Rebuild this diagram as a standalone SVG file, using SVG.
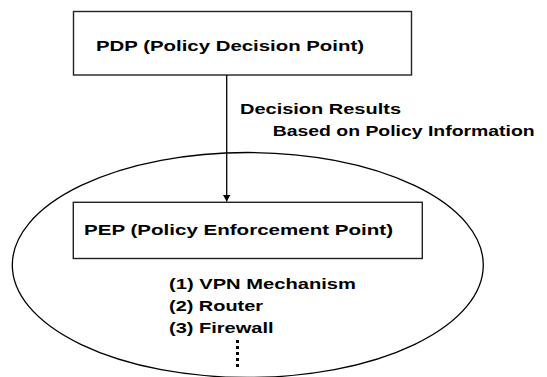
<svg xmlns="http://www.w3.org/2000/svg" width="547" height="377" viewBox="0 0 547 377">
<defs>
<marker id="ah" markerWidth="8" markerHeight="8" refX="7" refY="4" orient="auto" markerUnits="userSpaceOnUse">
<path d="M0,0 L7,4 L0,8 Z" fill="#000"/>
</marker>
</defs>
<style>
.t{font-family:"Liberation Sans",Arial,sans-serif;font-weight:bold;font-size:15px;fill:#000}
.box{fill:#fff;stroke:#222;stroke-width:1.4}
.edge{stroke:#000;stroke-width:1.3;fill:none}
</style>
<rect width="547" height="377" fill="#fff"/>
<g id="domain">
<ellipse cx="247.8" cy="265" rx="235.5" ry="112.5" fill="none" stroke="#000" stroke-width="1.3"/>
</g>
<g id="pdp">
<rect class="box" x="73.5" y="11.5" width="338" height="63.5"/>
<text class="t" x="96" y="51" textLength="268" lengthAdjust="spacingAndGlyphs">PDP (Policy Decision Point)</text>
</g>
<g id="connectors">
<line class="edge" x1="226.7" y1="75" x2="226.7" y2="201.5" marker-end="url(#ah)"/>
<text class="t" x="240" y="114" textLength="161" lengthAdjust="spacingAndGlyphs">Decision Results</text>
<text class="t" x="272.7" y="135.5" textLength="262" lengthAdjust="spacingAndGlyphs">Based on Policy Information</text>
</g>
<g id="pep">
<rect class="box" x="73.3" y="202.3" width="349" height="56.2"/>
<text class="t" x="84" y="235" textLength="309" lengthAdjust="spacingAndGlyphs">PEP (Policy Enforcement Point)</text>
</g>
<g id="mechanisms">
<text class="t" x="169" y="288.5" textLength="187" lengthAdjust="spacingAndGlyphs">(1) VPN Mechanism</text>
<text class="t" x="169" y="310.5" textLength="94" lengthAdjust="spacingAndGlyphs">(2) Router</text>
<text class="t" x="169" y="332.5" textLength="104.5" lengthAdjust="spacingAndGlyphs">(3) Firewall</text>
<line x1="237.5" y1="340" x2="237.5" y2="368" stroke="#000" stroke-width="3" stroke-dasharray="3 3"/>
</g>
</svg>
